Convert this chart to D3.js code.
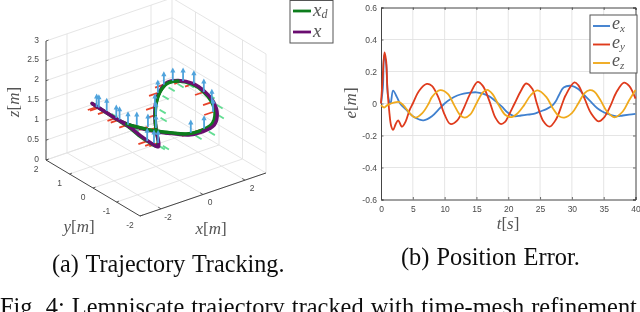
<!DOCTYPE html>
<html>
<head>
<meta charset="utf-8">
<script src="https://cdn.jsdelivr.net/npm/d3@7"></script>
<style>
body { margin: 0; background: #fff; overflow: hidden; }
svg { display: block; }
.tick3 { font: 8.5px "Liberation Sans"; fill: #4a4a4a; }
.math { font-family: "Liberation Serif"; fill: #555; }
.cap { font-family: "Liberation Serif"; fill: #111; word-spacing: 1px; }
</style>
</head>
<body>
<svg id="canvas"></svg>
<script>
var w = 640
var h = 312

// trajectory, metres
var xd = [-0.75,-0.78,-0.81,-0.74,-0.53,-0.24,0.12,0.56,1.12,1.63,1.87,1.95,2.01,1.85,1.59,1.34,0.90,0.60,0.29,-0.16,-0.77,-0.97,-0.99,-0.95,-0.83,-0.81,-0.78,-0.75]
var yd = [2.05,1.48,1.02,0.58,0.21,-0.17,-0.48,-0.80,-0.87,-0.92,-0.84,-0.62,-0.22,0.13,0.48,0.72,0.63,0.53,0.29,-0.14,-0.78,-0.87,-0.56,-0.10,0.44,0.95,1.46,2.05]
var zd = [1,1,1,1,1,1,1,1,1,1.1,1.3,1.5,1.6,1.7,1.7,1.6,1.5,1.3,1.1,1,1,1,1,1,1,1,1,1]
var xa = [-0.75,-0.78,-0.80,-0.72,-0.53,-0.22,0.14,0.58,1.14,1.66,1.91,2.00,2.05,1.91,1.62,1.37,0.90,0.58,0.28,-0.15,-0.76,-0.95,-0.97,-0.92,-0.81,-0.79,-0.77,-0.75]
var ya = [2.05,1.45,0.99,0.53,0.15,-0.24,-0.56,-0.88,-0.95,-1.00,-0.90,-0.66,-0.25,0.12,0.50,0.76,0.65,0.54,0.30,-0.14,-0.80,-0.95,-0.62,-0.16,0.38,0.89,1.41,2.05]
var za = zd

// body frames along the path
var fx = [-0.79,-0.75,-0.69,-0.75,-0.74,-0.74,-0.49,-0.25,-0.99,-0.88,0.60,-0.06,-0.76,0.75,1.36,2.48,2.95,2.21,2.33,2.14,1.83,1.37,0.77,-0.03]
var fy = [1.82,1.76,1.48,1.02,0.89,0.53,0.38,0.12,-0.51,-0.70,0.54,-0.05,-0.77,-0.81,-0.83,-0.21,0.26,-0.06,0.47,0.76,0.92,0.89,0.61,0.02]
var fz = [1,1,1,1,1,1,1,1,1,1,1,1,1,1,1,1,1,1.5,1.5,1.5,1.5,1.5,1.5,1.5]

var xTicks3 = [-2,0,2]
var yTicks3 = [-2,-1,0,1,2]
var zTicks3 = [0,0.5,1,1.5,2,2.5,3]

// panel (b) errors
var tx = [0,0.3,0.5,0.8,1.1,1.5,1.9,2.5,3,4,5,6,6.7,8,9,10,11,12,13,14,15,16,17,18,19,20,21,22,23,24,25,26,27,27.5,28,28.7,30,31,32,33,34,35,36,37,38,39,40]
var ex = [0,0.1,0.3,0.25,0.05,0,0.08,0.04,0,-0.04,-0.08,-0.1,-0.105,-0.08,-0.04,0,0.03,0.05,0.062,0.068,0.07,0.062,0.045,0.015,-0.02,-0.06,-0.08,-0.075,-0.07,-0.065,-0.05,-0.035,-0.01,0.015,0.055,0.1,0.11,0.09,0.05,0.01,-0.03,-0.055,-0.07,-0.08,-0.075,-0.07,-0.065]
var ty = [0,0.25,0.55,0.8,1,1.3,1.6,1.9,2.3,2.7,3.3,3.9,4.5,5,6,7.2,8,9,10,10.9,12,13,14,15.2,16,17,18,18.8,19.5,20,21,22,22.8,23.8,24.5,25.5,26.5,27.5,28.5,29,30.4,31,32,33,34.2,35,36,37,38.2,39,40]
var ey = [0,0.15,0.32,0.27,0.1,-0.05,-0.14,-0.165,-0.13,-0.105,-0.145,-0.11,-0.04,0,0.08,0.122,0.11,0.04,-0.07,-0.128,-0.105,-0.03,0.06,0.135,0.11,0.02,-0.09,-0.128,-0.115,-0.08,0,0.08,0.125,0.09,0,-0.11,-0.145,-0.1,0,0.05,0.132,0.115,0.03,-0.06,-0.112,-0.09,-0.02,0.07,0.13,0.11,0.03]
var tz = [0,0.5,1,2,2.8,3.5,4.5,5.4,6.5,7.5,8,9.3,10.5,11.5,12.5,13.2,14,15,16,16.7,17.5,18.5,19.5,20.5,21.5,22.5,23.5,24.6,26,27,28,28.8,30,31,32,32.8,33.5,34.5,35.5,36.7,38,39,40]
var ez = [-0.01,-0.025,-0.01,0.005,0.01,-0.01,-0.06,-0.088,-0.06,0,0.04,0.083,0.06,-0.01,-0.075,-0.088,-0.07,0,0.07,0.085,0.06,-0.01,-0.07,-0.085,-0.06,-0.01,0.05,0.082,0.04,-0.03,-0.08,-0.088,-0.06,0,0.065,0.083,0.075,0.02,-0.05,-0.086,-0.05,0.02,0.085]
var xTicks2 = [0,5,10,15,20,25,30,35,40]
var yTicks2 = [-0.6,-0.4,-0.2,0,0.2,0.4,0.6]

var svg = d3.select("#canvas")
  .attr("width", w)
  .attr("height", h)
  .attr("viewBox", [0, 0, w, h])

var defs = svg.append("defs")
defs.append("filter").attr("id", "soft")
  .append("feGaussianBlur").attr("stdDeviation", 0.45)

var root = svg.append("g").attr("filter", "url(#soft)")

// ---- panel (a) ----
// screen offset of each data axis, oblique box
var sx = d3.scaleLinear().domain([-3, 3]).range([0, 6])
var sy = d3.scaleLinear().domain([2, -2]).range([0, 4])
var sz = d3.scaleLinear().domain([0, 3]).range([0, 119])
function proj(x, y, z) {
  return [46 + sx(x) * 21 + sy(y) * 23.5,
          160 - sx(x) * 7.17 + sy(y) * 14 - sz(z)]
}
var p3 = root.append("g")
function seg(g, a, b, color, width) {
  var p = proj(a[0], a[1], a[2]), q = proj(b[0], b[1], b[2])
  return g.append("line").attr("x1", p[0]).attr("y1", p[1]).attr("x2", q[0]).attr("y2", q[1])
    .attr("stroke", color).attr("stroke-width", width)
}
var grid = "#e2e2e2"
xTicks3.forEach(function (t) {
  seg(p3, [t,-2,0], [t,2,0], grid, 0.9)
  seg(p3, [t,2,0], [t,2,3], grid, 0.9)
})
yTicks3.forEach(function (t) {
  seg(p3, [-3,t,0], [3,t,0], grid, 0.9)
  seg(p3, [3,t,0], [3,t,3], grid, 0.9)
})
zTicks3.forEach(function (t) {
  seg(p3, [-3,2,t], [3,2,t], grid, 0.9)
  seg(p3, [3,2,t], [3,-2,t], grid, 0.9)
})
var axisCol = "#444"
seg(p3, [-3,2,0], [-3,2,3], axisCol, 1)
seg(p3, [-3,2,0], [-3,-2,0], axisCol, 1)
seg(p3, [-3,-2,0], [3,-2,0], axisCol, 1)

zTicks3.forEach(function (t) {
  seg(p3, [-3,2,t], [-2.88,2,t], axisCol, 0.8)
  var p = proj(-3, 2, t)
  p3.append("text").attr("class", "tick3").attr("x", p[0] - 7).attr("y", p[1] + 1.5)
    .attr("text-anchor", "end").text(t)
})
yTicks3.forEach(function (t) {
  seg(p3, [-3,t,0], [-2.88,t,0], axisCol, 0.8)
  var p = proj(-3, t, 0)
  p3.append("text").attr("class", "tick3").attr("x", p[0] - 10).attr("y", p[1] + 11.5)
    .attr("text-anchor", "middle").text(t)
})
xTicks3.forEach(function (t) {
  seg(p3, [t,-2,0], [t,-1.88,0], axisCol, 0.8)
  var p = proj(t, -2, 0)
  p3.append("text").attr("class", "tick3").attr("x", p[0] + 7).attr("y", p[1] + 11)
    .attr("text-anchor", "middle").text(t)
})

// frames go under the path
var frames = d3.range(fx.length)
var blue3 = "#4fa3dc"
frames.forEach(function (i) {
  var b = [fx[i], fy[i], fz[i]]
  seg(p3, [b[0]-0.42,b[1],b[2]], b, "#e8432a", 1.8)
  var g = proj(b[0], b[1] - 0.2, b[2]), g2 = proj(b[0], b[1] - 0.46, b[2])
  p3.append("line").attr("x1", g[0]).attr("y1", g[1]).attr("x2", g2[0]).attr("y2", g2[1])
    .attr("stroke", "#62dd92").attr("stroke-width", 1.8)
})
var line3 = d3.line().x(function (d) { return d[0] }).y(function (d) { return d[1] })
  .curve(d3.curveCatmullRom.alpha(0.5))
var dPts = xd.map(function (v, i) { return proj(v, yd[i], zd[i]) })
var aPts = xa.map(function (v, i) { return proj(v, ya[i], za[i]) })
function path3(pts, color, width) {
  p3.append("path").attr("d", line3(pts)).attr("fill", "none")
    .attr("stroke", color).attr("stroke-width", width).attr("stroke-linecap", "round")
}
var green = "#0c7d1c", purple = "#6b1170"
path3(dPts, green, 3.4)
path3(aPts, purple, 3.4)
// the desired path shows on top along the upper stretch and the left of the loop
path3(dPts.slice(3, 9), green, 3.2)
path3(dPts.slice(14, 20), green, 3.2)

frames.forEach(function (i) {
  var p = proj(fx[i], fy[i], fz[i]), q = proj(fx[i], fy[i], fz[i] + 0.3)
  p3.append("line").attr("x1", p[0]).attr("y1", p[1]).attr("x2", q[0]).attr("y2", q[1] + 2)
    .attr("stroke", blue3).attr("stroke-width", 1.8)
  p3.append("path").attr("d", "M" + (q[0]-2.6) + "," + (q[1]+3.5) + "L" + q[0] + "," + (q[1]-1.5) + "L" + (q[0]+2.6) + "," + (q[1]+3.5) + "Z")
    .attr("fill", blue3)
})

function mathLabel(g, x, y, size, name, unit, rot, anchor) {
  var t = g.append("text").attr("class", "math").attr("x", x).attr("y", y)
    .attr("font-size", size).attr("text-anchor", anchor || "middle")
  if (rot) t.attr("transform", "rotate(" + rot + " " + x + " " + y + ")")
  t.append("tspan").attr("font-style", "italic").text(name)
  if (unit) {
    t.append("tspan").text("[")
    t.append("tspan").attr("font-style", "italic").text(unit)
    t.append("tspan").text("]")
  }
  return t
}
mathLabel(p3, 211, 234, 17, "x", "m")
mathLabel(p3, 79, 232, 17, "y", "m")
mathLabel(p3, 19, 102, 17, "z", "m", -90)

// legend (a)
var leg = root.append("g")
leg.append("rect").attr("x", 290).attr("y", 0.5).attr("width", 43).attr("height", 42.5)
  .attr("fill", "#fff").attr("stroke", "#555").attr("stroke-width", 1)
var legY = d3.scalePoint().domain(["xd", "x"]).range([11, 32])
leg.selectAll("line").data(legY.domain()).enter().append("line")
  .attr("x1", 293).attr("x2", 311)
  .attr("y1", function (d) { return legY(d) }).attr("y2", function (d) { return legY(d) })
  .attr("stroke", function (d) { return d == "x" ? purple : green })
  .attr("stroke-width", 2.8)
var t1 = mathLabel(leg, 313, 16, 19, "x", null, 0, "start")
t1.append("tspan").attr("font-style", "italic").attr("font-size", 12).attr("dy", 2).text("d")
mathLabel(leg, 313, 37, 19, "x", null, 0, "start")

// ---- panel (b) ----
var x2 = d3.scaleLinear().domain([0, 40]).range([381, 635.5])
var y2 = d3.scaleLinear().domain([-0.6, 0.6]).range([199.5, 7.5])
var p2 = root.append("g")
p2.append("g").selectAll("line").data(xTicks2.slice(1, -1)).enter().append("line")
  .attr("x1", x2).attr("x2", x2).attr("y1", y2(-0.6)).attr("y2", y2(0.6))
  .attr("stroke", grid).attr("stroke-width", 0.9)
p2.append("g").selectAll("line").data(yTicks2.slice(1, -1)).enter().append("line")
  .attr("y1", y2).attr("y2", y2).attr("x1", x2(0)).attr("x2", x2(40))
  .attr("stroke", grid).attr("stroke-width", 0.9)

function styleAxis(g) {
  g.selectAll("path").attr("stroke", axisCol).attr("stroke-width", 1)
  g.selectAll("line").attr("stroke", axisCol).attr("stroke-width", 0.8)
  g.selectAll("text").attr("font-family", "Liberation Sans").attr("font-size", 8.5)
    .attr("fill", "#4a4a4a")
}
var fmt = function (d) { return d }
p2.append("g").attr("transform", "translate(0," + y2(-0.6) + ")")
  .call(d3.axisBottom(x2).tickValues(xTicks2).tickFormat(fmt).tickSize(-2.5).tickPadding(6)).call(styleAxis)
p2.append("g").attr("transform", "translate(0," + y2(0.6) + ")")
  .call(d3.axisTop(x2).tickValues(xTicks2).tickFormat("").tickSize(-2.5)).call(styleAxis)
p2.append("g").attr("transform", "translate(" + x2(0) + ",0)")
  .call(d3.axisLeft(y2).tickValues(yTicks2).tickFormat(fmt).tickSize(-2.5).tickPadding(4)).call(styleAxis)
p2.append("g").attr("transform", "translate(" + x2(40) + ",0)")
  .call(d3.axisRight(y2).tickValues(yTicks2).tickFormat("").tickSize(-2.5)).call(styleAxis)

var cx = "#3f80cf", cy = "#df3a1c", cz = "#f0aa1e"
var line2 = d3.line().x(function (d) { return x2(d[0]) }).y(function (d) { return y2(d[1]) })
  .curve(d3.curveCatmullRom.alpha(0.5))
var series = [[tx, ex, cx], [ty, ey, cy], [tz, ez, cz]]
series.forEach(function (s) {
  p2.append("path").attr("d", line2(d3.zip(s[0], s[1]))).attr("fill", "none")
    .attr("stroke", s[2]).attr("stroke-width", 1.8)
})
mathLabel(p2, 508, 229, 17, "t", "s")
mathLabel(p2, 356, 103, 17, "e", "m", -90)

var leg2 = root.append("g")
leg2.append("rect").attr("x", 590).attr("y", 15).attr("width", 47).attr("height", 58)
  .attr("fill", "#fff").attr("stroke", "#555").attr("stroke-width", 1)
var names = ["x", "y", "z"]
var legY2 = d3.scalePoint().domain(names).range([26, 63])
names.forEach(function (n, i) {
  leg2.append("line").attr("x1", 593).attr("x2", 610)
    .attr("y1", legY2(n)).attr("y2", legY2(n))
    .attr("stroke", series[i][2]).attr("stroke-width", 1.9)
  var t = mathLabel(leg2, 612, legY2(n) + 3, 18, "e", null, 0, "start")
  t.append("tspan").attr("font-style", "italic").attr("font-size", 11).attr("dy", 2.5).text(n)
})

// ---- captions ----
var caps = root.append("g")
caps.append("text").attr("class", "cap").attr("x", 52).attr("y", 272).attr("font-size", 24.2)
  .text("(a) Trajectory Tracking.")
caps.append("text").attr("class", "cap").attr("x", 401).attr("y", 265).attr("font-size", 24.4)
  .text("(b) Position Error.")
caps.append("text").attr("class", "cap").attr("x", 0).attr("y", 315).attr("font-size", 24.4)
  .text("Fig. 4: Lemniscate trajectory tracked with time-mesh refinement")
</script>
</body>
</html>
